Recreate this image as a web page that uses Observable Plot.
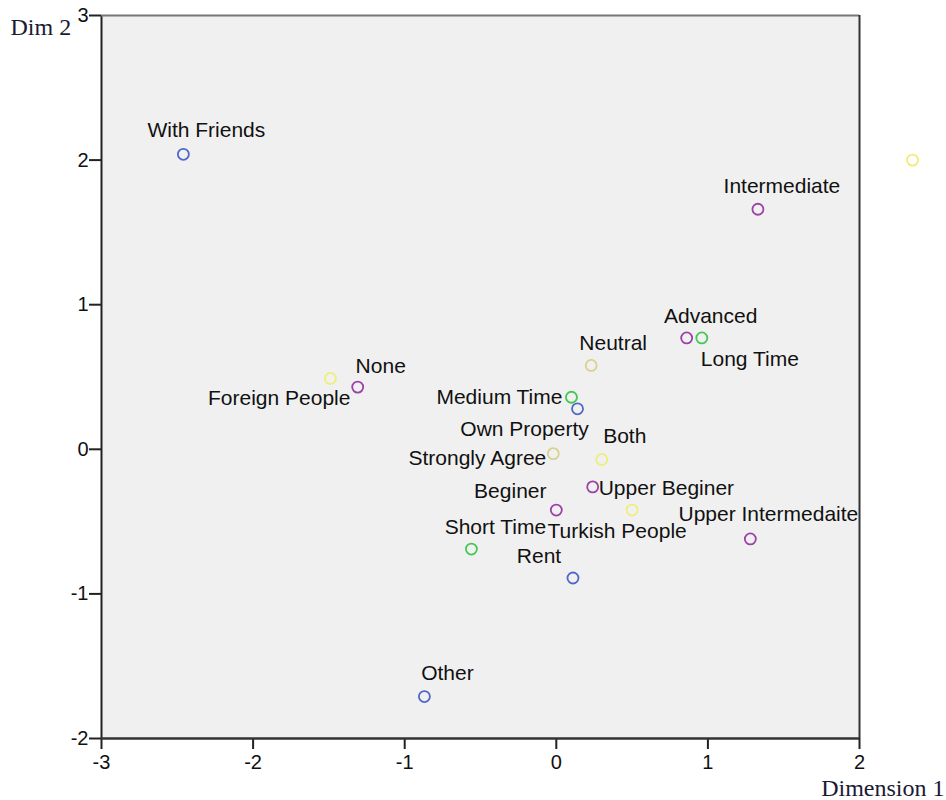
<!DOCTYPE html>
<html>
<head>
<meta charset="utf-8">
<script src="https://cdn.jsdelivr.net/npm/d3@7"></script>
<script src="https://cdn.jsdelivr.net/npm/@observablehq/plot@0.6"></script>
<style>
  html, body { margin: 0; padding: 0; background: #fff; }
  #chart svg { display: block; }
</style>
</head>
<body>
<div id="chart"></div>
<script>
// ---- Data ----
const labels = ["With Friends", "", "Intermediate", "Advanced", "Long Time", "Neutral", "None",
  "Foreign People", "Medium Time", "Own Property", "Strongly Agree", "Both", "Upper Beginer",
  "Beginer", "Turkish People", "Upper Intermedaite", "Short Time", "Rent", "Other"];
const dim1 = [-2.46, 2.35, 1.33, 0.86, 0.96, 0.23, -1.31,
  -1.49, 0.10, 0.14, -0.02, 0.30, 0.24,
  0.00, 0.50, 1.28, -0.56, 0.11, -0.87];
const dim2 = [2.04, 2.00, 1.66, 0.77, 0.77, 0.58, 0.43,
  0.49, 0.36, 0.28, -0.03, -0.07, -0.26,
  -0.42, -0.42, -0.62, -0.69, -0.89, -1.71];
const groups = ["Accommodation", "Friends", "Level", "Level", "Duration", "Opinion", "Level",
  "Friends", "Duration", "Accommodation", "Opinion", "Friends", "Level",
  "Level", "Friends", "Level", "Duration", "Accommodation", "Accommodation"];
const groupNames = ["Accommodation", "Level", "Duration", "Friends", "Opinion"];
const xTicks = [-3, -2, -1, 0, 1, 2];
const yTicks = [-2, -1, 0, 1, 2, 3];

// ---- Styling / layout (kept apart from data) ----
const groupColors = ["#5068c8", "#9c42a6", "#44c852", "#eeee78", "#d8d28e"];
// label offsets relative to point: [dx, dy, textAnchor]
const labelOffsets = {
  "With Friends": [23, -24, "middle"],
  "Intermediate": [24, -23, "middle"],
  "Advanced": [24, -22, "middle"],
  "Long Time": [48, 21, "middle"],
  "Neutral": [22, -22, "middle"],
  "None": [23, -21, "middle"],
  "Foreign People": [20, 20, "end"],
  "Medium Time": [-9, 0, "end"],
  "Own Property": [-53, 20, "middle"],
  "Strongly Agree": [-7, 5, "end"],
  "Both": [23, -23, "middle"],
  "Upper Beginer": [6, 1, "start"],
  "Beginer": [-46, -19, "middle"],
  "Turkish People": [-15, 21, "middle"],
  "Upper Intermedaite": [18, -25, "middle"],
  "Short Time": [24, -22, "middle"],
  "Rent": [-34, -22, "middle"],
  "Other": [23, -23, "middle"]
};

const points = labels.map((l, i) => ({label: l, x: dim1[i], y: dim2[i], group: groups[i]}));
const labeled = points.filter(d => d.label !== "");

const sans = "'Liberation Sans', Arial, sans-serif";
const serif = "'Liberation Serif', 'Times New Roman', serif";

const textMarks = ["start", "middle", "end"].map(anchor =>
  Plot.text(labeled.filter(d => labelOffsets[d.label][2] === anchor), {
    x: "x", y: "y", text: "label",
    textAnchor: anchor,
    lineAnchor: "middle",
    fontSize: 21,
    fontFamily: sans,
    fill: "#111",
    render(index, scales, values, dims, context, next) {
      const g = next(index, scales, values, dims, context);
      const data = this.data;
      d3.select(g).selectAll("text").each(function(_, k) {
        const d = data[index[k]];
        const o = labelOffsets[d.label];
        const t = d3.select(this);
        const tr = t.attr("transform") || "";
        t.attr("transform", tr + ` translate(${o[0]},${o[1]})`);
      });
      return g;
    }
  })
);

const chart = Plot.plot({
  width: 946,
  height: 800,
  marginLeft: 101,
  marginRight: 87,
  marginTop: 15,
  marginBottom: 62,
  style: {background: "#fff", fontFamily: sans, overflow: "visible"},
  x: {domain: [-3, 2]},
  y: {domain: [-2, 3]},
  color: {domain: groupNames, range: groupColors},
  marks: [
    Plot.frame({fill: "#f0f0f0", stroke: null}),
    Plot.axisX({ticks: xTicks, tickSize: 11, tickPadding: 5, fontSize: 20, fontFamily: sans,
      stroke: "#222", strokeWidth: 2, color: "#111", label: null, tickFormat: d => String(d)}),
    Plot.axisY({ticks: yTicks, tickSize: 12, tickPadding: 1, fontSize: 20, fontFamily: sans,
      stroke: "#222", strokeWidth: 2, color: "#111", label: null, tickFormat: d => String(d)}),
    Plot.ruleX([-3], {stroke: "#222", strokeWidth: 2}),
    Plot.ruleY([-2], {stroke: "#333", strokeWidth: 2.5}),
    Plot.ruleY([3], {stroke: "#777", strokeWidth: 2}),
    Plot.ruleX([2], {stroke: "#333", strokeWidth: 2}),
    Plot.dot(points, {x: "x", y: "y", stroke: "group", r: 5.5, strokeWidth: 1.8, fill: "none"}),
    ...textMarks,
    Plot.text(["Dim 2"], {frameAnchor: "top-left", dx: -91, dy: 12, textAnchor: "start", lineAnchor: "middle",
      fontSize: 24, fontFamily: serif, fill: "#1a1a33"}),
    Plot.text(["Dimension 1"], {frameAnchor: "bottom-right", dx: 85, dy: 50, textAnchor: "end", lineAnchor: "middle",
      fontSize: 24, fontFamily: serif, fill: "#1a1a33"})
  ]
});

document.getElementById("chart").appendChild(chart);
</script>
</body>
</html>
